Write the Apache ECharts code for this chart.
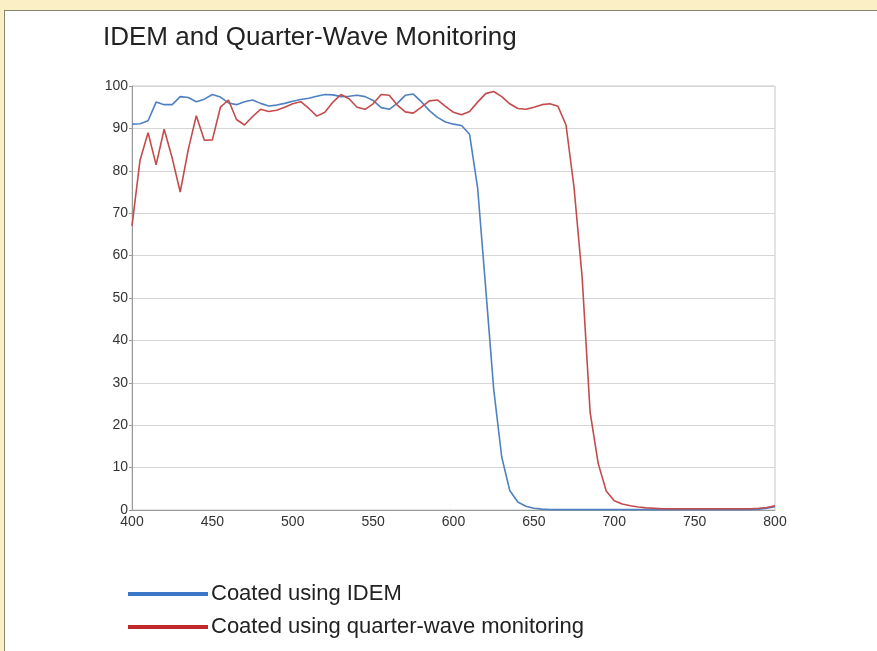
<!DOCTYPE html>
<html>
<head>
<meta charset="utf-8">
<script src="https://cdn.jsdelivr.net/npm/echarts@6/dist/echarts.min.js"></script>
<style>
  html, body { margin:0; padding:0; background:#fbefc6; }
  #panel { position:absolute; left:4px; top:10px; width:890px; height:660px; background:#fff; border-left:1px solid #8a8470; border-top:1px solid #8a8470; }
  #main { position:absolute; left:0; top:0; width:877px; height:651px; }
</style>
</head>
<body>
<div id="panel"></div>
<div id="main"></div>
<script type="text/javascript">
// wavelength (nm), 5 nm steps
var wavelengths = [];
for (var w = 400; w <= 800; w += 5) wavelengths.push(w);

// Coated using IDEM (%)
var idem = [
  91.0, 91.1, 91.8, 96.2, 95.6, 95.6, 97.5, 97.3, 96.3, 96.9,
  98.0, 97.4, 96.0, 95.6, 96.3, 96.7, 95.9, 95.3, 95.5, 95.9,
  96.4, 96.8, 97.1, 97.6, 98.0, 97.9, 97.5, 97.6, 97.8, 97.5,
  96.6, 94.9, 94.5, 95.9, 97.8, 98.1, 96.3, 94.2, 92.6, 91.5,
  91.0, 90.7, 88.6, 76.0, 52.5, 28.5, 12.5, 4.6, 1.9, 0.9,
  0.4, 0.2, 0.1, 0.1, 0.1, 0.1, 0.1, 0.1, 0.1, 0.1,
  0.1, 0.1, 0.1, 0.1, 0.1, 0.1, 0.1, 0.1, 0.1, 0.1,
  0.1, 0.1, 0.1, 0.1, 0.1, 0.1, 0.1, 0.1, 0.2, 0.4,
  0.8
];

// Coated using quarter-wave monitoring (%)
var quarterWave = [
  67.0, 82.5, 89.0, 81.4, 89.8, 83.0, 75.0, 85.0, 93.0, 87.2,
  87.3, 95.0, 96.7, 92.1, 90.8, 92.8, 94.5, 94.0, 94.3, 95.0,
  95.8, 96.3, 94.7, 92.9, 93.8, 96.2, 98.0, 97.0, 95.0, 94.5,
  95.8, 98.0, 97.8, 95.5, 93.9, 93.6, 95.0, 96.5, 96.7, 95.2,
  93.8, 93.2, 94.0, 96.2, 98.2, 98.7, 97.5, 95.8, 94.7, 94.5,
  95.0, 95.6, 95.8, 95.2, 90.8, 76.0, 55.0, 23.0, 11.0, 4.5,
  2.2, 1.4, 1.0, 0.7, 0.5, 0.4, 0.3, 0.3, 0.3, 0.3,
  0.3, 0.3, 0.3, 0.3, 0.3, 0.3, 0.3, 0.3, 0.4, 0.6,
  1.0
];

var seriesNames = ['Coated using IDEM', 'Coated using quarter-wave monitoring'];
var lineColors = ['#4f80c2', '#c44a4c'];
var legendColors = ['#3b78c9', '#c0282c'];

function pairs(vals) {
  var out = [];
  for (var i = 0; i < wavelengths.length; i++) out.push([wavelengths[i], vals[i]]);
  return out;
}

var myChart = echarts.init(document.getElementById('main'));
var option = {
  backgroundColor: 'transparent',
  animation: false,
  title: {
    text: 'IDEM and Quarter-Wave Monitoring',
    left: 98,
    top: 20,
    textStyle: { fontFamily: 'Liberation Sans', fontSize: 26, fontWeight: 'normal', color: '#222' }
  },
  legend: {
    orient: 'vertical',
    left: 123,
    top: 578,
    itemWidth: 80,
    itemHeight: 4,
    itemGap: 11,
    icon: 'rect',
    textStyle: { fontFamily: 'Liberation Sans', fontSize: 22, color: '#222', padding: [0, 0, 0, -2] },
    data: [
      { name: seriesNames[0], itemStyle: { color: legendColors[0] } },
      { name: seriesNames[1], itemStyle: { color: legendColors[1] } }
    ]
  },
  grid: {
    left: 132, right: 102, top: 86, bottom: 141,
    show: true, borderColor: '#c8c8c8', borderWidth: 1
  },
  xAxis: {
    type: 'value',
    min: 400, max: 800, interval: 50,
    axisLine: { show: true, lineStyle: { color: '#9a9a9a' } },
    axisTick: { show: false },
    splitLine: { show: false },
    axisLabel: { fontFamily: 'Liberation Sans', fontSize: 14, color: '#333', margin: 5 }
  },
  yAxis: {
    type: 'value',
    min: 0, max: 100, interval: 10,
    axisLine: { show: true, lineStyle: { color: '#9a9a9a' } },
    axisTick: { show: true, length: 3, lineStyle: { color: '#9a9a9a' } },
    splitLine: { lineStyle: { color: '#d6d6d6' } },
    axisLabel: { fontFamily: 'Liberation Sans', fontSize: 14, color: '#333', margin: 4 }
  },
  series: [
    {
      name: seriesNames[0], type: 'line', data: pairs(idem),
      showSymbol: false, smooth: false,
      lineStyle: { color: lineColors[0], width: 1.6 },
      itemStyle: { color: lineColors[0] }
    },
    {
      name: seriesNames[1], type: 'line', data: pairs(quarterWave),
      showSymbol: false, smooth: false,
      lineStyle: { color: lineColors[1], width: 1.6 },
      itemStyle: { color: lineColors[1] }
    }
  ]
};
myChart.setOption(option);
</script>
</body>
</html>
